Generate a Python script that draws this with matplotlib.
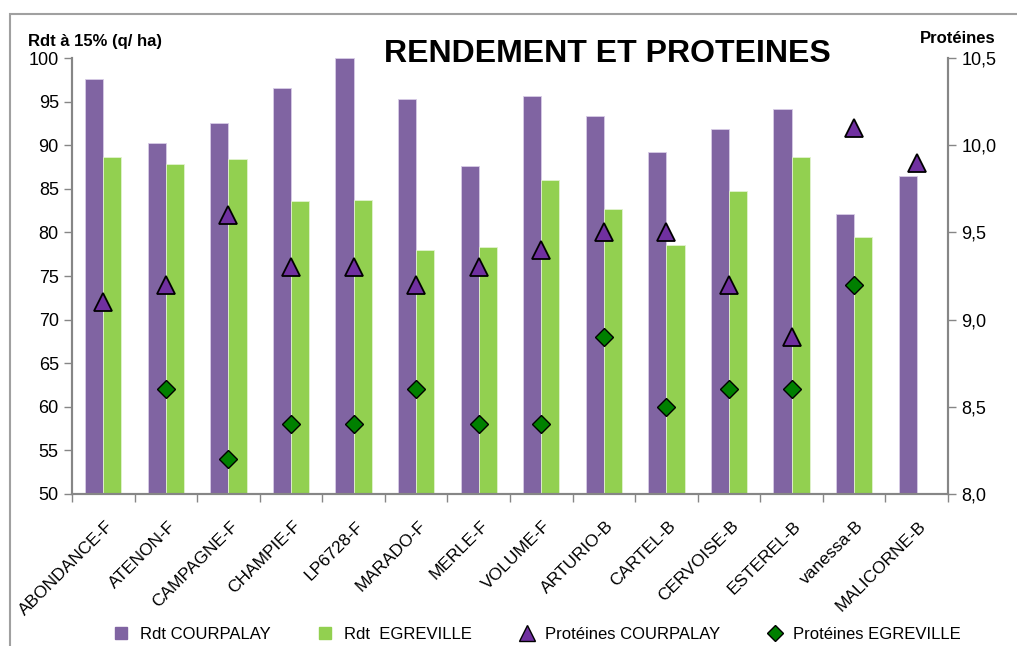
import numpy as np
import matplotlib
matplotlib.use('Agg')
import matplotlib.pyplot as plt
from matplotlib.patches import Rectangle
from matplotlib.lines import Line2D
from matplotlib.ticker import FuncFormatter

plt.rcParams['font.family'] = ['Liberation Sans', 'DejaVu Sans']

varietes = ['ABONDANCE-F', 'ATENON-F', 'CAMPAGNE-F', 'CHAMPIE-F', 'LP6728-F',
            'MARADO-F', 'MERLE-F', 'VOLUME-F', 'ARTURIO-B', 'CARTEL-B',
            'CERVOISE-B', 'ESTEREL-B', 'vanessa-B', 'MALICORNE-B']
rdt_courpalay = [97.6, 90.2, 92.5, 96.6, 100.0, 95.3, 87.6, 95.6, 93.4, 89.2,
                 91.9, 94.1, 82.1, 86.5]
rdt_egreville = [88.6, 87.8, 88.4, 83.6, 83.7, 78.0, 78.3, 86.0, 82.7, 78.5,
                 84.8, 88.6, 79.5, np.nan]
prot_courpalay = [9.1, 9.2, 9.6, 9.3, 9.3, 9.2, 9.3, 9.4, 9.5, 9.5, 9.2, 8.9, 10.1, 9.9]
prot_egreville = [np.nan, 8.6, 8.2, 8.4, 8.4, 8.6, 8.4, 8.4, 8.9, 8.5, 8.6, 8.6, 9.2, np.nan]

purple = '#8064A2'
green = '#92D050'
spine_col = '#868686'

fig = plt.figure(figsize=(10.17, 6.46), dpi=100)
ax = fig.add_axes([0.0708, 0.2353, 0.8614, 0.6749])
ax2 = ax.twinx()

x = np.arange(len(varietes))
w = 0.29
ax.bar(x - w / 2, rdt_courpalay, w, color=purple, edgecolor='#d8cce6', linewidth=0.6)
ax.bar(x + w / 2, rdt_egreville, w, color=green, edgecolor='#e2f2cf', linewidth=0.6)
ax.set_ylim(50, 100)
ax.set_xlim(-0.5, len(varietes) - 0.5)
ax.set_yticks(np.arange(50, 101, 5))

ax2.plot(x, prot_courpalay, ls='none', marker='^', ms=13, mfc='#7030A0', mec='black', mew=1.3)
ax2.plot(x, prot_egreville, ls='none', marker='D', ms=9, mfc='#008000', mec='black', mew=1.0)
ax2.set_ylim(8, 10.5)
ax2.set_yticks(np.arange(8, 10.51, 0.5))
ax2.yaxis.set_major_formatter(FuncFormatter(lambda v, p: f'{v:.1f}'.replace('.', ',')))

for a in (ax, ax2):
    a.spines['top'].set_visible(False)
    for s in ('left', 'right', 'bottom'):
        a.spines[s].set_color(spine_col)
        a.spines[s].set_linewidth(1.5)
    a.tick_params(axis='y', colors=spine_col, length=6, width=1, labelsize=13, labelcolor='black')

# category labels, ticks sit between the categories
ax.set_xticks(np.arange(-0.5, len(varietes) + 0.5))
ax.set_xticklabels([])
ax.tick_params(axis='x', colors=spine_col, length=6, width=1)
for i, lab in enumerate(varietes):
    ax.text(i + 0.03, 47.2, lab, rotation=45, ha='right', va='top', fontsize=12.5,
            rotation_mode='anchor')

fig.text(0.028, 0.935, 'Rdt à 15% (q/ ha)', fontsize=12, fontweight='bold', ha='left', va='center')
fig.text(0.979, 0.940, 'Protéines', fontsize=12, fontweight='bold', ha='right', va='center')
fig.text(0.597, 0.916, 'RENDEMENT ET PROTEINES', fontsize=23, fontweight='bold',
         ha='center', va='center')

handles = [
    Line2D([], [], ls='none', marker='s', ms=9, mfc=purple, mec=purple),
    Line2D([], [], ls='none', marker='s', ms=9, mfc=green, mec=green),
    Line2D([], [], ls='none', marker='^', ms=11, mfc='#7030A0', mec='black'),
    Line2D([], [], ls='none', marker='D', ms=8, mfc='#008000', mec='black'),
]
labels = ['Rdt COURPALAY', 'Rdt  EGREVILLE', 'Protéines COURPALAY', 'Protéines EGREVILLE']
fig.legend(handles, labels, loc='center', bbox_to_anchor=(0.524, 0.018), ncol=4,
           frameon=False, fontsize=12, handletextpad=0.1, columnspacing=2.3)

fig.add_artist(Rectangle((10 / 1017, -0.1), 1.2, 1.1 - 14 / 646, transform=fig.transFigure,
                         fill=False, edgecolor='#a0a0a0', linewidth=1.5))

fig.savefig('out.png', dpi=100)
